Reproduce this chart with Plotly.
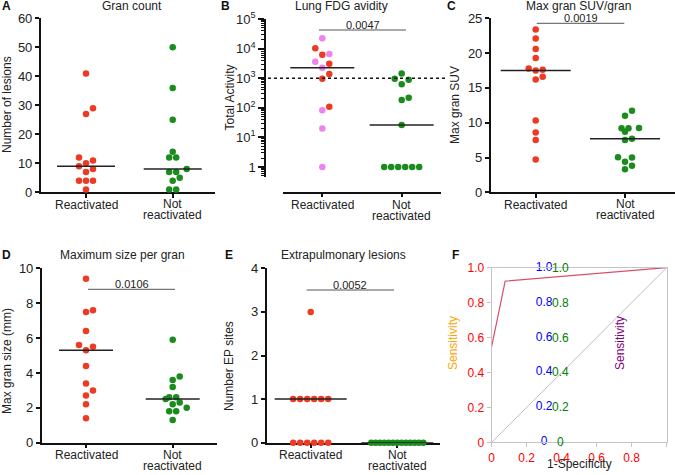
import numpy as np
import plotly.graph_objects as go

W, H = 675, 475
RED = "#EE3A23"
GREEN = "#1A8C1E"
PINK = "#EE82EE"
FONT = "Liberation Sans, Arial, sans-serif"

categories = ["Reactivated", "Not<br>reactivated"]
gran_count_react = [41, 29, 27, 12, 11, 10, 9, 8, 7, 4, 4, 4, 1]
gran_count_not = [50, 36, 25, 14, 12, 12, 8, 7, 7, 5, 4, 1, 1]
fdg_react_red = [10200, 6200, 3100, 1380, 960, 109]
fdg_react_pink = [22400, 6600, 3600, 2250, 82, 20, 1]
fdg_not = [1450, 960, 890, 620, 218, 183, 26, 1, 1, 1, 1, 1, 1]
fdg_threshold = 1000
suv_react = [23.4, 22.1, 20.6, 19.3, 17.8, 17.6, 17.5, 16.6, 16.2, 10.3, 8.6, 7.5, 4.7]
suv_not = [11.7, 11.0, 9.2, 9.2, 9.25, 8.7, 7.7, 7.5, 5.0, 5.05, 4.4, 3.8, 3.3]
size_react = [9.4, 7.6, 7.5, 6.4, 5.6, 5.5, 5.3, 4.4, 3.4, 3.0, 2.7, 2.2, 1.4]
size_not = [5.9, 3.8, 3.6, 3.2, 2.6, 2.6, 2.5, 2.3, 2.2, 2.0, 1.8, 1.8, 1.3]
ep_react = [3, 1, 1, 1, 1, 1, 1, 0, 0, 0, 0, 0, 0]
ep_not = [0] * 13
roc_fpr = [0, 0.077, 1]
roc_tpr = [0.55, 0.923, 1]
roc_ticks = [0, 0.2, 0.4, 0.6, 0.8, 1.0]
roc_ticktext = ["0", "0.2", "0.4", "0.6", "0.8", "1.0"]
p_values = {"B": "0.0047", "C": "0.0019", "D": "0.0106", "E": "0.0052"}
titles = {"A": "Gran count", "B": "Lung FDG avidity", "C": "Max gran SUV/gran",
          "D": "Maximum size per gran", "E": "Extrapulmonary lesions"}
ytitles = {"A": "Number of lesions", "B": "Total Activity", "C": "Max gran SUV",
           "D": "Max gran size (mm)", "E": "Number EP sites", "F": "Sensitivity"}


def PX(p):
    return p / W


def PY(p):
    return 1 - p / H


def swarm(vals, ppu, log=False, dot=7.0, maxw=52.0):
    v = np.log10(np.asarray(vals, float)) if log else np.asarray(vals, float)
    ypx = v * ppu
    order = np.argsort(ypx, kind="stable")
    off = np.zeros(len(v))
    placed = []
    i = 0
    while i < len(order):
        j = i
        while j + 1 < len(order) and ypx[order[j + 1]] == ypx[order[i]]:
            j += 1
        grp = order[i:j + 1]
        n = len(grp)
        if n > 1:
            sp = min(dot, maxw / (n - 1))
            for k, idx in enumerate(grp):
                off[idx] = (k - (n - 1) / 2) * sp
                placed.append((off[idx], ypx[idx]))
        else:
            idx = grp[0]
            c = 0
            for c in [0, dot, -dot, 2 * dot, -2 * dot, 3 * dot, -3 * dot]:
                if all((c - a) ** 2 + (ypx[idx] - b) ** 2 >= (dot - 0.4) ** 2 for a, b in placed):
                    break
            off[idx] = c
            placed.append((c, ypx[idx]))
        i = j + 1
    return off


def note(x, y, text, size=12, xref="paper", yref="paper", angle=0, color="#222", **kw):
    d = dict(x=x, y=y, xref=xref, yref=yref, text=text, showarrow=False,
             xanchor="center", yanchor="middle", textangle=angle,
             font=dict(size=size, color=color, family=FONT))
    d.update(kw)
    return d


fig = go.Figure()
layout = dict(width=W, height=H, margin=dict(l=0, r=0, t=0, b=0, autoexpand=False),
              paper_bgcolor="white", plot_bgcolor="white", showlegend=False,
              font=dict(family=FONT, size=12, color="#222"))
annotations = []
shapes = []

panels = {
    "A": dict(ax="", x0=40.7, x1=215, c0=86, c1=172.7, yt=18.3, yb=192.3, yr=[0, 60], dt=10, mh=29,
              xaxis_y=192.3),
    "B": dict(ax="2", x0=283.3, x1=440.7, c0=322.3, c1=401.7, yt=19, yb=176.7, yr=[-0.328, 5], mh=32,
              yaxis_x=265, xaxis_y=192.7),
    "C": dict(ax="3", x0=490.7, x1=675, c0=535.7, c1=625, yt=18.3, yb=192.3, yr=[0, 25], dt=5, mh=35,
              xaxis_y=192.3),
    "D": dict(ax="4", x0=41.7, x1=216.7, c0=86, c1=172.7, yt=268.3, yb=442.7, yr=[0, 10], dt=2, mh=27,
              xaxis_y=442.7),
    "E": dict(ax="5", x0=266.7, x1=440, c0=310.7, c1=397.3, yt=268.3, yb=442.7, yr=[0, 4], dt=1, mh=36,
              xaxis_y=442.7),
}
series = {"A": (gran_count_react, gran_count_not), "C": (suv_react, suv_not),
          "D": (size_react, size_not), "E": (ep_react, ep_not)}
brackets = {"B": (319, 406, 30), "C": (536.7, 624.3, 23.3), "D": (88, 175, 289.3), "E": (306.7, 394, 290)}

for key, p in panels.items():
    ax = p["ax"]
    u = p["c1"] - p["c0"]
    xr = [(p["x0"] - p["c0"]) / u, (p["x1"] - p["c0"]) / u]
    yr = p["yr"]
    ppu = (p["yb"] - p["yt"]) / (yr[1] - yr[0])
    xname, yname = "x" + ax, "y" + ax
    islog = key == "B"
    xa = dict(domain=[PX(p["x0"]), PX(p["x1"])], range=xr, anchor=yname,
              showgrid=False, zeroline=False, showline=True, linecolor="#111", linewidth=1.5,
              tickvals=[0, 1], showticklabels=False, ticks="outside", ticklen=4, tickwidth=1.5,
              tickcolor="#111", layer="below traces")
    ya = dict(domain=[PY(p["yb"]), PY(p["yt"])], range=yr, anchor=xname,
              showgrid=False, zeroline=False, showline=True, linecolor="#111", linewidth=1.5,
              ticks="outside", ticklen=4, tickwidth=1.5, tickcolor="#111",
              tickfont=dict(size=13, color="#222"), layer="below traces")
    if islog:
        ya.update(type="log", anchor="free", position=PX(p["yaxis_x"]),
                  tickvals=[10 ** k for k in range(0, 6)],
                  ticktext=["1"] + ["10<sup>%d</sup>" % k for k in range(1, 6)],
                  ticklen=6,
                  minor=dict(ticks="outside", ticklen=3, tickwidth=1, tickcolor="#111",
                             tickvals=[m * 10.0 ** d for d in range(-1, 5) for m in range(2, 10)
                                       if np.log10(m * 10.0 ** d) > yr[0]]))
        xa.update(anchor="free", position=PY(p["xaxis_y"]))
    else:
        ya.update(dtick=p["dt"], tick0=0)
    layout["xaxis" + ax] = xa
    layout["yaxis" + ax] = ya

    ly = p["xaxis_y"]
    annotations.append(note(0, PY(ly + 12.5), categories[0].split("<br>")[0], xref=xname))
    for li, line in enumerate(categories[1].split("<br>")):
        annotations.append(note(1, PY(ly + 12.0 + 11 * li), line, xref=xname))

    if key == "B":
        react_vals = fdg_react_red + fdg_react_pink
        cols = [RED] * len(fdg_react_red) + [PINK] * len(fdg_react_pink)
        groups = [(react_vals, cols, 0), (fdg_not, [GREEN] * len(fdg_not), 1)]
    else:
        r, n = series[key]
        groups = [(r, [RED] * len(r), 0), (n, [GREEN] * len(n), 1)]

    for vals, cols, c in groups:
        off = swarm(vals, ppu, log=islog)
        xs = c + off / u
        fig.add_trace(go.Scatter(x=xs, y=vals, mode="markers", xaxis=xname, yaxis=yname,
                                 marker=dict(size=6.5, color=cols, line=dict(width=0)),
                                 cliponaxis=False, hoverinfo="skip"))
        med = float(np.median(vals))
        h = p["mh"] / u
        fig.add_trace(go.Scatter(x=[c - h, c + h], y=[med, med], mode="lines",
                                 xaxis=xname, yaxis=yname, line=dict(color="#222", width=1.5),
                                 hoverinfo="skip"))

    if key in brackets:
        bx0, bx1, by = brackets[key]
        yval = yr[1] - (by - p["yt"]) / ppu
        shape_y = 10 ** yval if islog else yval
        shapes.append(dict(type="line", xref="paper", yref=yname,
                           x0=PX(bx0), x1=PX(bx1), y0=shape_y, y1=shape_y,
                           line=dict(color="#555", width=1)))
        annotations.append(note(PX((bx0 + bx1) / 2), PY(by - 5.5), p_values[key], size=11))

shapes.append(dict(type="line", xref="paper", yref="y2", x0=PX(268), x1=PX(447),
                   y0=fdg_threshold, y1=fdg_threshold,
                   line=dict(color="#111", width=1.5, dash="dot")))

title_pos = {"A": (132, 6), "B": (341, 6), "C": (578, 6), "D": (122.5, 255), "E": (343.7, 255)}
for k, (x, y) in title_pos.items():
    annotations.append(note(PX(x), PY(y), titles[k]))
yt_pos = {"A": (7, 105), "B": (230, 97.5), "C": (455, 105), "D": (7, 361), "E": (229, 366)}
for k, (x, y) in yt_pos.items():
    annotations.append(note(PX(x), PY(y), ytitles[k], angle=-90))
letter_pos = {"A": (6, 6), "B": (226, 6), "C": (451, 6), "D": (6, 255), "E": (229, 255), "F": (455, 255)}
for k, (x, y) in letter_pos.items():
    annotations.append(note(PX(x), PY(y), "<b>%s</b>" % k, color="#111"))

# Panel F (diagnostic colours)
F_x0, F_x1, F_yt, F_yb = 491.7, 666.7, 267.7, 442.3
for axn, dom, anc in [("xaxis6", [PX(F_x0), PX(F_x1)], "y6"), ("yaxis6", [PY(F_yb), PY(F_yt)], "x6")]:
    layout[axn] = dict(domain=dom, range=[0, 1], anchor=anc,
                       showgrid=False, zeroline=False, showline=True, mirror=True,
                       linecolor="#C4C4C4", linewidth=1, ticks="outside", ticklen=4,
                       tickcolor="#C4C4C4", tickmode="array", tickvals=roc_ticks,
                       ticktext=roc_ticktext, showticklabels=True,
                       tickfont=dict(size=12, color="red"))
fig.add_trace(go.Scatter(x=[0, 1], y=[0, 1], mode="lines", xaxis="x6", yaxis="y6",
                         line=dict(color="#B0B0B0", width=0.8), hoverinfo="skip"))
fig.add_trace(go.Scatter(x=roc_fpr, y=roc_tpr, mode="lines", xaxis="x6", yaxis="y6",
                         line=dict(color="#D9506A", width=1.2), hoverinfo="skip"))
fig.add_trace(go.Scatter(x=[0.3] * 6, y=roc_ticks, mode="text", text=roc_ticktext,
                         xaxis="x6", yaxis="y6", textfont=dict(color="blue", size=12),
                         cliponaxis=False, hoverinfo="skip"))
for v, t in zip(roc_ticks, roc_ticktext):
    annotations.append(note(PX(560), PY(F_yb - v * (F_yb - F_yt)), t, color="green"))
annotations.append(note(PX(579), PY(464), "1-Specificity"))
annotations.append(note(PX(453), PY(343), ytitles["F"], angle=-90, color="orange"))
annotations.append(note(PX(620), PY(343), ytitles["F"], angle=-90, color="purple"))

layout["annotations"] = annotations
layout["shapes"] = shapes
fig.update_layout(**layout)
fig.write_html("out.html", config={"displayModeBar": False},
               post_script="document.body.style.margin='0px';document.body.style.padding='0px';")
